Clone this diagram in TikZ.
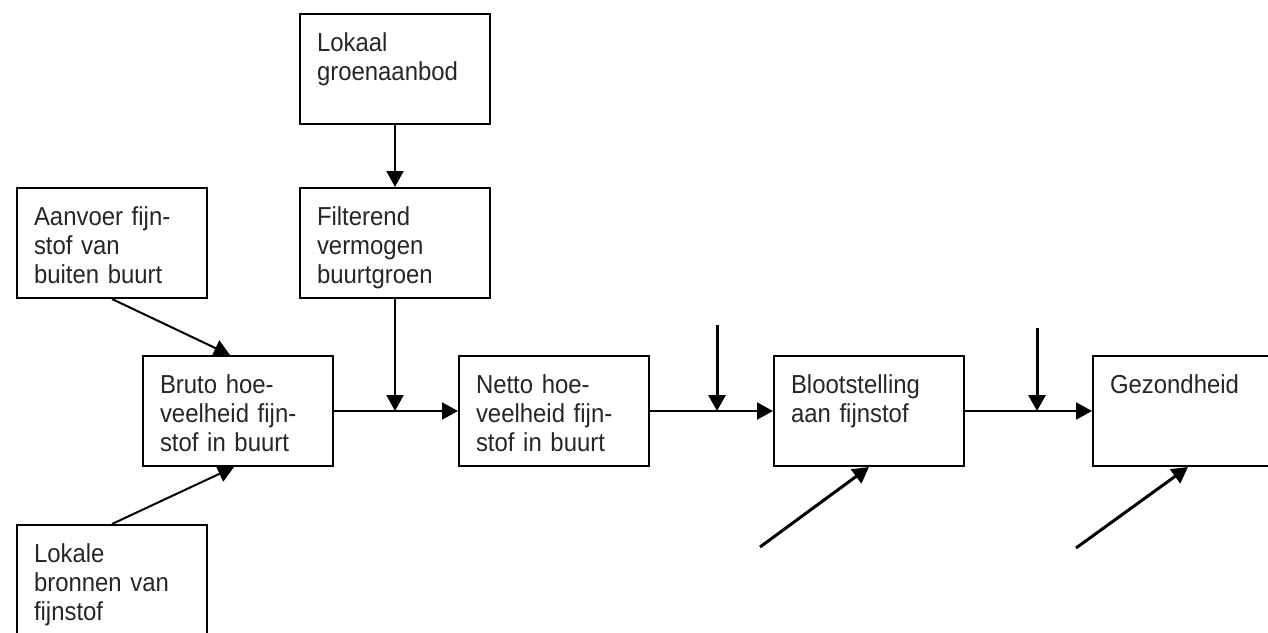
\documentclass[tikz,border=0pt]{standalone}
\usepackage{fontspec}
\setmainfont[FakeStretch=0.92]{Liberation Sans}
\usetikzlibrary{arrows.meta}

\begin{document}
\begin{tikzpicture}[x=1pt,y=-1pt]
\tikzstyle{box}=[rectangle,draw,line width=2pt,anchor=north west,inner xsep=17pt,inner ysep=0pt,text width=156pt,align=left,text height=37pt,text depth=73pt,text=black!85,font=\fontsize{26}{29}\selectfont]
\tikzstyle{pijl}=[line width=2pt,-{Triangle[length=16pt,width=17pt]}]
\tikzstyle{los}=[line width=3pt,-{Triangle[length=16pt,width=17pt]}]
\useasboundingbox (0,0) rectangle (1268,632);
\clip (0,0) rectangle (1268,632);
% boxes
\node [box] (lokaal) at (299,13) {Lokaal\\groenaanbod};
\node [box] (filter) at (299,187) {Filterend\\vermogen\\buurtgroen};
\node [box] (aanvoer) at (16,187) {Aanvoer fijn-\\stof van\\buiten buurt};
\node [box] (bruto) at (142,355) {Bruto hoe-\\veelheid fijn-\\stof in buurt};
\node [box] (lokale) at (16,524) {Lokale\\bronnen van\\fijnstof};
\node [box] (netto) at (458,355) {Netto hoe-\\veelheid fijn-\\stof in buurt};
\node [box] (bloot) at (773,355) {Blootstelling\\aan fijnstof};
\node [box] (gezond) at (1092,355) {Gezondheid};
% loose ends
\coordinate (fmeet) at (filter.south |- bruto.east);
\coordinate (inA) at (717,325);
\coordinate (inB) at (1037,328);
\coordinate (inC) at (760,547);
\coordinate (inD) at (1076,548);
% arrows
\draw [pijl] (lokaal) -- (filter);
\draw [pijl] (aanvoer.south) -- ([xshift=-8pt]bruto.north);
\draw [pijl] (lokale.north) -- ([xshift=-4pt]bruto.south);
\draw [pijl] (filter) -- (fmeet);
\draw [pijl] (bruto) -- (netto);
\draw [pijl] (netto) -- (bloot);
\draw [pijl] (bloot) -- (gezond);
\draw [los] (inA) -- (inA |- netto.east);
\draw [los] (inB) -- (inB |- bloot.east);
\draw [los] (inC) -- (bloot.south);
\draw [los] (inD) -- (gezond.south);
\end{tikzpicture}
\end{document}
